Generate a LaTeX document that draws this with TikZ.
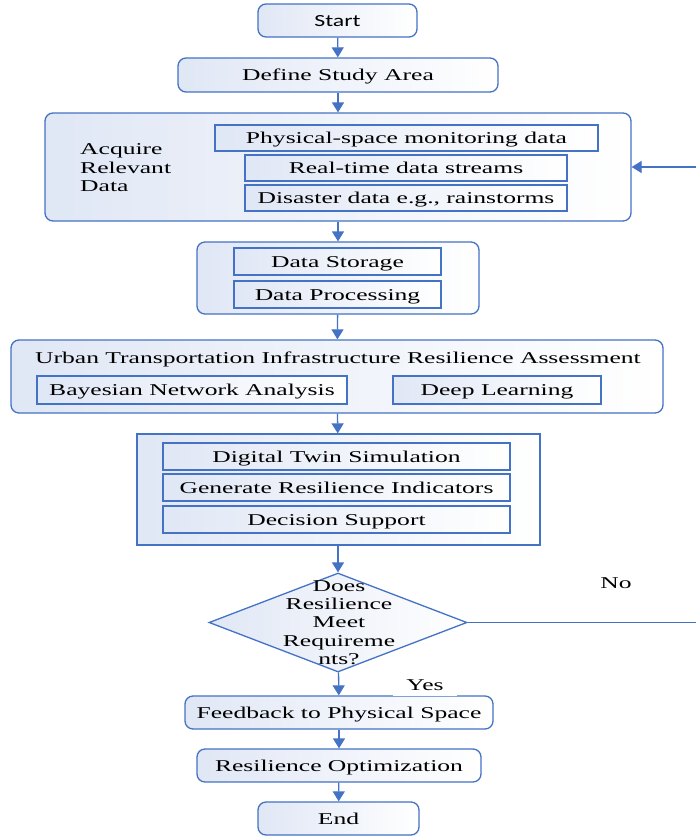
\documentclass[tikz,border=0pt]{standalone}
\usepackage{fontspec}
\setmainfont{Liberation Serif}[FakeStretch=1.55]
\newfontfamily\startfont{Carlito}[FakeStretch=1.4]
\usetikzlibrary{shapes.geometric,arrows.meta}
\definecolor{bline}{HTML}{4472C4}
\definecolor{bfill}{RGB}{224,231,245}
\tikzset{
  boxbase/.style={draw=bline, line width=1.3pt, left color=bfill, right color=white, inner sep=0pt, align=center, text height=11pt, text depth=0pt, font=\fontsize{16.5}{18.3}\selectfont},
  rbox/.style={boxbase, rounded corners=8pt},
  sbox/.style={boxbase},
  ibox/.style={boxbase, line width=1.5pt},
  flow/.style={draw=bline, line width=1.3pt, -{Triangle[length=10pt,width=12pt]}},
  plain/.style={draw=bline, line width=1.3pt},
  lbl/.style={inner sep=0pt, align=left, font=\fontsize{16.5}{18.5}\selectfont},
}
\begin{document}
\begin{tikzpicture}[x=1pt,y=-1pt]
\useasboundingbox[fill=white] (0,0) rectangle (696,836);
% top
\node[rbox, minimum width=159pt, minimum height=33pt, font=\startfont\fontsize{17}{18}\selectfont] (start) at (337.5,20.5) {Start};
\node[rbox, minimum width=320pt, minimum height=34pt] (define) at (338,75) {Define Study Area};
% acquire
\node[rbox, minimum width=586pt, minimum height=108pt] (acq) at (338,167) {};
\node[ibox, minimum width=383pt, minimum height=26pt] (phys) at (406.5,138) {Physical-space monitoring data};
\node[ibox, minimum width=322pt, minimum height=26pt] (real) at (406,168) {Real-time data streams};
\node[ibox, minimum width=322pt, minimum height=26pt] (dis) at (406,198) {Disaster data e.g., rainstorms};
\node[lbl, anchor=west] (acqt) at (80,168) {Acquire\\Relevant\\Data};
% storage
\node[rbox, minimum width=282pt, minimum height=72pt] (stor) at (338,278) {};
\node[ibox, minimum width=207pt, minimum height=27pt] (dstor) at (337.5,261.5) {Data Storage};
\node[ibox, minimum width=207pt, minimum height=27pt] (dproc) at (337.5,294.5) {Data Processing};
% urban
\node[rbox, minimum width=652pt, minimum height=73pt] (urban) at (337,376.5) {};
\node[lbl] (urbt) at (338,359) {Urban Transportation Infrastructure Resilience Assessment};
\node[ibox, minimum width=310pt, minimum height=28pt] (bayes) at (192,390) {Bayesian Network Analysis};
\node[ibox, minimum width=208pt, minimum height=28pt] (deep) at (497,390) {Deep Learning};
% digital twin
\node[sbox, minimum width=403pt, minimum height=111pt] (dt) at (338.5,489.5) {};
\node[ibox, minimum width=347pt, minimum height=27pt] (dts) at (336.5,456.5) {Digital Twin Simulation};
\node[ibox, minimum width=347pt, minimum height=27pt] (gri) at (336.5,487.5) {Generate Resilience Indicators};
\node[ibox, minimum width=347pt, minimum height=27pt] (ds) at (336.5,519.5) {Decision Support};
% decision
\node[diamond, draw=bline, line width=1.3pt, left color=bfill, right color=white, minimum width=258pt, minimum height=99pt, inner sep=0pt] (dia) at (338,622.5) {};
\node[lbl, align=center, font=\fontsize{16.5}{18.3}\selectfont] (diat) at (339,622.5) {Does\\Resilience\\Meet\\Requireme\\nts?};
\node[lbl] (no) at (616,583) {No};
% bottom
\node[rbox, minimum width=308pt, minimum height=33pt] (fb) at (339,712.5) {Feedback to Physical Space};
\node[fill=white, inner sep=0pt, minimum width=64pt, minimum height=22pt, font=\fontsize{16.5}{18}\selectfont] (yes) at (425,685) {Yes};
\node[rbox, minimum width=284pt, minimum height=33pt] (opt) at (339,765.5) {Resilience Optimization};
\node[rbox, minimum width=161pt, minimum height=33pt] (endn) at (338.5,818.5) {End};
% connectors
\coordinate (fbin) at (697,167);
\coordinate (noout) at (697,622.5);
\draw[flow] (start) -- (define);
\draw[flow] (define) -- (acq);
\draw[flow] (acq) -- (stor);
\draw[flow] (stor) -- (urban);
\draw[flow] (urban) -- (dt);
\draw[flow] (dt.south -| dia.north) -- (dia.north);
\draw[flow] (dia) -- (fb);
\draw[flow] (fb) -- (opt);
\draw[flow] (opt) -- (endn);
\draw[flow] (fbin) -- (acq.east);
\draw[plain] (dia.east) -- (noout);
\end{tikzpicture}
\end{document}
